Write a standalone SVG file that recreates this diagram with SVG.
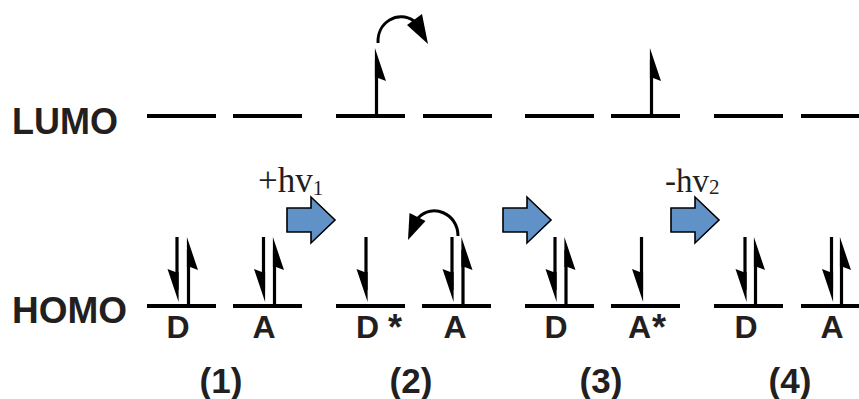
<svg xmlns="http://www.w3.org/2000/svg" xmlns:xlink="http://www.w3.org/1999/xlink" width="859" height="399" viewBox="0 0 859 399">
<style>
.lv{stroke:#000;stroke-width:4;fill:none}
.sp{stroke:#000;stroke-width:3.2;fill:none}
.cv{stroke:#000;stroke-width:3;fill:none}
.hd{fill:#000}
.lb{font-family:"Liberation Sans",Arial,sans-serif;font-weight:bold;fill:#231f20}
.hv{font-family:"Liberation Serif","Times New Roman",serif;fill:#231f20}
.blk{fill:#6092c8;stroke:#000;stroke-width:1.6;stroke-linejoin:miter}
</style>
<defs>
<path id="hdn" d="M1.6,0 L-9.5,-33 L-1.6,-30 L1.6,-30 Z"/>
<path id="hup" d="M-1.6,0 L9.5,33 L1.6,30 L-1.6,30 Z"/>
</defs>
<rect width="859" height="399" fill="#fff"/>
<g id="axis-labels">
<text class="lb" x="12" y="134" font-size="36">LUMO</text>
<text class="lb" x="12" y="323" font-size="37">HOMO</text>
</g>
<g id="state1">
<line class="lv" x1="147" y1="116" x2="216" y2="116"/>
<line class="lv" x1="233" y1="116" x2="302" y2="116"/>
<line class="lv" x1="147" y1="306" x2="216" y2="306"/>
<line class="lv" x1="233" y1="306" x2="302" y2="306"/>
<line class="sp" x1="177" y1="237" x2="177" y2="290"/><use href="#hdn" x="177" y="302"/>
<line class="sp" x1="188.5" y1="250" x2="188.5" y2="304"/><use href="#hup" x="188.5" y="237"/>
<line class="sp" x1="263.5" y1="237" x2="263.5" y2="290"/><use href="#hdn" x="263.5" y="302"/>
<line class="sp" x1="274.5" y1="250" x2="274.5" y2="304"/><use href="#hup" x="274.5" y="237"/>
<text class="lb" x="178" y="338" font-size="32" text-anchor="middle">D</text>
<text class="lb" x="264" y="338" font-size="32" text-anchor="middle">A</text>
<text class="lb" x="221" y="393" font-size="35" text-anchor="middle">(1)</text>
</g>
<g id="state2">
<line class="lv" x1="336" y1="116" x2="405" y2="116"/>
<line class="lv" x1="423" y1="116" x2="492" y2="116"/>
<line class="lv" x1="336" y1="306" x2="405" y2="306"/>
<line class="lv" x1="422" y1="306" x2="491" y2="306"/>
<line class="sp" x1="376.5" y1="60" x2="376.5" y2="114"/><use href="#hup" x="376.5" y="48"/>
<line class="sp" x1="366" y1="237" x2="366" y2="290"/><use href="#hdn" x="366" y="302"/>
<line class="sp" x1="452" y1="237" x2="452" y2="290"/><use href="#hdn" x="452" y="302"/>
<line class="sp" x1="463" y1="250" x2="463" y2="304"/><use href="#hup" x="463" y="237"/>
<text class="lb" x="356" y="338" font-size="32">D <tspan font-size="36" dy="2">*</tspan></text>
<text class="lb" x="455" y="338" font-size="32" text-anchor="middle">A</text>
<text class="lb" x="411" y="393" font-size="35" text-anchor="middle">(2)</text>
</g>
<g id="state3">
<line class="lv" x1="525" y1="116" x2="594" y2="116"/>
<line class="lv" x1="611" y1="116" x2="680" y2="116"/>
<line class="lv" x1="525" y1="306" x2="594" y2="306"/>
<line class="lv" x1="611" y1="306" x2="680" y2="306"/>
<line class="sp" x1="651.5" y1="60" x2="651.5" y2="114"/><use href="#hup" x="651.5" y="48"/>
<line class="sp" x1="555" y1="237" x2="555" y2="290"/><use href="#hdn" x="555" y="302"/>
<line class="sp" x1="566" y1="250" x2="566" y2="304"/><use href="#hup" x="566" y="237"/>
<line class="sp" x1="641.5" y1="237" x2="641.5" y2="290"/><use href="#hdn" x="641.5" y="302"/>
<text class="lb" x="556" y="338" font-size="32" text-anchor="middle">D</text>
<text class="lb" x="628" y="338" font-size="32">A<tspan font-size="36" dx="1" dy="2">*</tspan></text>
<text class="lb" x="601" y="393" font-size="35" text-anchor="middle">(3)</text>
</g>
<g id="state4">
<line class="lv" x1="714" y1="116" x2="783" y2="116"/>
<line class="lv" x1="801" y1="116" x2="870" y2="116"/>
<line class="lv" x1="714" y1="306" x2="783" y2="306"/>
<line class="lv" x1="801" y1="306" x2="870" y2="306"/>
<line class="sp" x1="745" y1="237" x2="745" y2="290"/><use href="#hdn" x="745" y="302"/>
<line class="sp" x1="755.5" y1="250" x2="755.5" y2="304"/><use href="#hup" x="755.5" y="237"/>
<line class="sp" x1="831.5" y1="237" x2="831.5" y2="290"/><use href="#hdn" x="831.5" y="302"/>
<line class="sp" x1="841.5" y1="250" x2="841.5" y2="304"/><use href="#hup" x="841.5" y="237"/>
<text class="lb" x="746" y="338" font-size="32" text-anchor="middle">D</text>
<text class="lb" x="832" y="338" font-size="32" text-anchor="middle">A</text>
<text class="lb" x="790" y="393" font-size="35" text-anchor="middle">(4)</text>
</g>
<g id="connectors">
<path class="cv" d="M378,43 C377,22 398,10 414,21"/>
<polygon class="hd" points="428,44 407,25 422,14"/>
<path class="cv" d="M458,236 C458,213 432,203 418,218"/>
<polygon class="hd" points="408,240 409.5,213 425.5,221"/>
<path class="blk" d="M287,208 H311 V197 L335,220 L311,243 V232 H287 Z"/>
<path class="blk" d="M503,208 H527 V197 L551,220 L527,243 V232 H503 Z"/>
<path class="blk" d="M671,208 H695 V197 L719,220 L695,243 V232 H671 Z"/>
<text class="hv" x="258" y="192" font-size="35">+hv<tspan font-size="21" dy="3">1</tspan></text>
<text class="hv" x="665" y="192" font-size="33">-hv<tspan font-size="21" dy="2">2</tspan></text>
</g>
</svg>
